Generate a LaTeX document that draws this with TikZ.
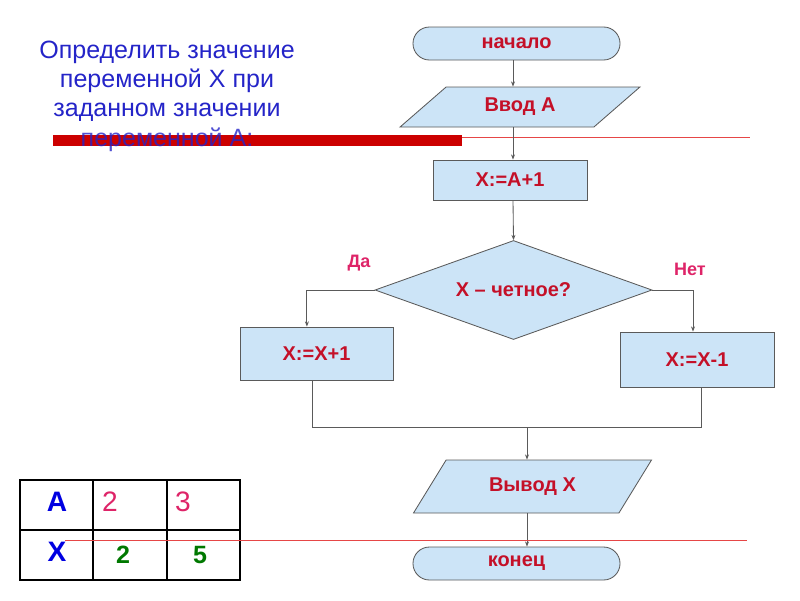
\documentclass[tikz,border=0pt]{standalone}
\usepackage{fontspec}
\setmainfont{Liberation Sans}
\usepackage{tikz}
\usetikzlibrary{shapes.geometric,shapes.misc,arrows.meta,positioning}

\definecolor{boxblue}{RGB}{204,228,247}
\definecolor{edgegray}{RGB}{90,90,90}
\definecolor{textred}{RGB}{196,16,40}
\definecolor{labelpink}{RGB}{222,36,104}
\definecolor{titleblue}{RGB}{36,36,200}
\definecolor{cellblue}{RGB}{0,0,225}
\definecolor{cellgreen}{RGB}{0,120,0}
\definecolor{barred}{RGB}{204,0,0}
\definecolor{rulepink}{RGB}{230,70,70}

\begin{document}
\begin{tikzpicture}[
  x=0.025cm, y=-0.025cm,
  block/.style={
    draw=edgegray, line width=0.6pt, fill=boxblue, inner sep=0pt,
    text=textred, font=\fontsize{14.2}{16}\selectfont\bfseries
  },
  terminal/.style={block, rounded rectangle, minimum width=5.175cm, minimum height=0.825cm},
  process/.style={block, rectangle, minimum width=3.85cm},
  io/.style={block, trapezium, trapezium stretches=true, minimum width=6cm},
  decision/.style={block, diamond, shape aspect=2.8, minimum width=6.925cm, minimum height=2.475cm},
  answer/.style={text=labelpink, font=\fontsize{12.8}{15}\selectfont\bfseries},
  cellhead/.style={text=cellblue, font=\fontsize{20}{22}\selectfont\bfseries},
  cellin/.style={text=labelpink, font=\fontsize{20}{22}\selectfont},
  cellout/.style={text=cellgreen, font=\fontsize{17.8}{20}\selectfont\bfseries},
  arrow/.style={-{Stealth[length=1.3mm,width=1mm]}, line width=0.6pt, draw=edgegray},
  link/.style={line width=0.6pt, draw=edgegray}
]
\useasboundingbox (0,0) rectangle (800,600);

% Task text
\node[text=titleblue, align=center, inner sep=0pt,
      font=\fontsize{17.8}{20.5}\selectfont] (task) at (167,81)
  {Определить значение\\переменной Х при\\заданном значении};
\fill[barred] (53,135) rectangle (462,146);
\node[text=titleblue, anchor=base, inner sep=0pt, opacity=0.8,
      font=\fontsize{17.8}{20.5}\selectfont] (taskend) at (167,146) {переменной А:};
\draw[rulepink, line width=0.5pt] (462,137) -- (750,137);

% Flowchart
\node[terminal] (start) at (516.5,43.5) {начало};
\node[io, trapezium left angle=38.7, trapezium right angle=141.3,
      minimum height=1cm] (input) at (520,107) {Ввод А};
\node[process, minimum height=1cm] (calc) at (510,180) {X:=A+1};
\node[decision] (check) at (513.5,290) {X – четное?};
\node[process, minimum width=3.825cm, minimum height=1.325cm] (plus) at (316.5,353.5) {X:=X+1};
\node[process, minimum height=1.375cm] (minus) at (697,359.5) {X:=X-1};
\node[io, trapezium left angle=47.2, trapezium right angle=132.8,
      minimum width=5.975cm, minimum height=1.325cm] (output) at (532.5,486.5) {Вывод X};
\node[terminal] (stop) at (516.5,563.5) {конец};
\node[answer] (yes) at (359,263) {Да};
\node[answer] (no) at (690,269) {Нет};
\coordinate (axis) at (513,0);
\coordinate (merge) at (527,427);

% Connectors
\draw[arrow] (start.south -| axis) -- (input.north -| axis);
\draw[arrow] (input.south -| axis) -- (calc.north -| axis);
\draw[arrow] (calc.south -| axis) -- (check.north);
\draw[arrow] (check.west) -| ([xshift=-0.24cm]plus.north);
\draw[arrow] (check.east) -| ([xshift=-0.1cm]minus.north);
\draw[link] ([xshift=-0.09cm]plus.south) |- (merge);
\draw[link] ([xshift=0.1cm]minus.south) |- (merge);
\draw[arrow] (merge) -- (output.north -| merge);
\draw[arrow] (output.south -| merge) -- (stop.north -| merge);

% Trace table
\draw[line width=1.5pt] (20,480) rectangle (240,580);
\draw[line width=0.9pt] (93,480) -- (93,580) (167,480) -- (167,580) (20,530) -- (240,530);
\node[cellhead] (ha) at (57,502) {A};
\node[cellin] (a1) at (110,502) {2};
\node[cellin] (a2) at (183,502) {3};
\node[cellhead] (hx) at (57,552) {X};
\node[cellout] (x1) at (123,555) {2};
\node[cellout] (x2) at (200,555) {5};
\draw[rulepink, line width=0.5pt] (65,540) -- (747,540);
\end{tikzpicture}
\end{document}
